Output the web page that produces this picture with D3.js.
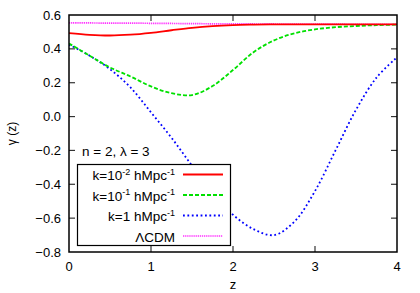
<!DOCTYPE html>
<html>
<head>
<meta charset="utf-8">
<script src="https://cdn.jsdelivr.net/npm/d3@7"></script>
<style>
  body { margin: 0; background: #fff; }
  text { font-family: "Liberation Sans", Arial, sans-serif; }
</style>
</head>
<body>
<script>
// redshift grid shared by all curves
const zGrid = [0, 0.25, 0.5, 0.75, 1, 1.25, 1.5, 1.75, 2, 2.25, 2.5, 2.75, 3, 3.25, 3.5, 3.75, 4];

const gammaK1e2 = [0.493, 0.483, 0.479, 0.484, 0.495, 0.51, 0.524, 0.534, 0.54, 0.543, 0.545, 0.545, 0.545, 0.545, 0.545, 0.545, 0.545];
const gammaK1e1 = [0.432, 0.36, 0.29, 0.237, 0.178, 0.138, 0.127, 0.18, 0.275, 0.38, 0.45, 0.492, 0.515, 0.528, 0.535, 0.54, 0.543];
const gammaK1 = [0.425, 0.36, 0.28, 0.172, 0.025, -0.125, -0.29, -0.45, -0.58, -0.665, -0.70, -0.62, -0.44, -0.20, 0.04, 0.23, 0.35];
const gammaLCDM = [0.553, 0.553, 0.552, 0.552, 0.551, 0.55, 0.549, 0.548, 0.548, 0.547, 0.547, 0.546, 0.546, 0.546, 0.545, 0.545, 0.545];

const xTicks = [0, 1, 2, 3, 4];
const yTicks = [-0.8, -0.6, -0.4, -0.2, 0, 0.2, 0.4, 0.6];

const seriesNames = ["k=10", "k=10", "k=1", "ΛCDM"];
const seriesExp = ["-2", "-1", null, null];

const width = 420, height = 293;
const margin = {top: 15, right: 23, bottom: 41, left: 69};

const svg = d3.select("body").append("svg")
  .attr("width", width)
  .attr("height", height);

const x = d3.scaleLinear().domain([0, 4]).range([margin.left, width - margin.right]);
const y = d3.scaleLinear().domain([-0.8, 0.6]).range([height - margin.bottom, margin.top]);

const series = [
  {vals: gammaK1e2, color: "#ff0000", width: 1.8, dash: null},
  {vals: gammaK1e1, color: "#00e000", width: 1.8, dash: "4,2"},
  {vals: gammaK1, color: "#0000ff", width: 1.8, dash: "1.8,2.6"},
  {vals: gammaLCDM, color: "#ff33ff", width: 1.7, dash: "1.3,0.8"}
];

const line = d3.line()
  .x(d => x(d[0]))
  .y(d => y(d[1]))
  .curve(d3.curveCatmullRom);

svg.append("clipPath").attr("id", "clip")
  .append("rect")
  .attr("x", margin.left).attr("y", margin.top)
  .attr("width", x(4) - x(0)).attr("height", y(-0.8) - y(0.6));

// ticks (inside, mirrored)
const tickLen = 6;
const ticks = svg.append("g").attr("stroke", "#333").attr("stroke-width", 1.2);
xTicks.slice(1, -1).forEach(t => {
  ticks.append("line").attr("x1", x(t)).attr("x2", x(t)).attr("y1", y(-0.8)).attr("y2", y(-0.8) - tickLen);
  ticks.append("line").attr("x1", x(t)).attr("x2", x(t)).attr("y1", y(0.6)).attr("y2", y(0.6) + tickLen);
});
yTicks.slice(1, -1).forEach(t => {
  ticks.append("line").attr("x1", x(0)).attr("x2", x(0) + tickLen).attr("y1", y(t)).attr("y2", y(t));
  ticks.append("line").attr("x1", x(4)).attr("x2", x(4) - tickLen).attr("y1", y(t)).attr("y2", y(t));
});

// curves
const plot = svg.append("g").attr("clip-path", "url(#clip)");
series.slice().reverse().forEach(s => {
  plot.append("path")
    .datum(zGrid.map((z, i) => [z, s.vals[i]]))
    .attr("fill", "none")
    .attr("stroke", s.color)
    .attr("stroke-width", s.width)
    .attr("stroke-dasharray", s.dash)
    .attr("d", line);
});

// frame
svg.append("rect")
  .attr("x", x(0)).attr("y", y(0.6))
  .attr("width", x(4) - x(0)).attr("height", y(-0.8) - y(0.6))
  .attr("fill", "none").attr("stroke", "#000").attr("stroke-width", 1.5);

// tick labels
svg.append("g").selectAll("text").data(xTicks).join("text")
  .attr("x", d => x(d)).attr("y", y(-0.8) + 19)
  .attr("text-anchor", "middle").attr("font-size", 13)
  .text(d => d);
svg.append("g").selectAll("text").data(yTicks).join("text")
  .attr("x", x(0) - 8).attr("y", d => y(d) + 4.5)
  .attr("text-anchor", "end").attr("font-size", 13)
  .text(d => d3.format(".1f")(d));

// axis titles
svg.append("text").attr("x", (x(0) + x(4)) / 2).attr("y", 289)
  .attr("text-anchor", "middle").attr("font-size", 13).text("z");
svg.append("text")
  .attr("transform", `translate(16,${(y(0.6) + y(-0.8)) / 2}) rotate(-90)`)
  .attr("text-anchor", "middle").attr("font-size", 12).text("γ (z)");

// annotation
svg.append("text").attr("x", 82).attr("y", 155.5).attr("font-size", 13.5).text("n = 2, λ = 3");

// legend
const lg = svg.append("g");
lg.append("rect").attr("x", 77.5).attr("y", 164.5).attr("width", 153).attr("height", 81)
  .attr("fill", "#fff").attr("stroke", "#000").attr("stroke-width", 1.2);
const rowY = [174.5, 195, 215.5, 236];
series.forEach((s, i) => {
  lg.append("line").attr("x1", 183).attr("x2", 223).attr("y1", rowY[i]).attr("y2", rowY[i])
    .attr("stroke", s.color).attr("stroke-width", s.width).attr("stroke-dasharray", s.dash);
  const t = lg.append("text").attr("x", 175).attr("y", rowY[i] + 5.5)
    .attr("text-anchor", "end").attr("font-size", 13.5);
  if (i < 3) {
    t.append("tspan").text(seriesNames[i]);
    if (seriesExp[i]) t.append("tspan").attr("dy", -5.5).attr("font-size", 9).text(seriesExp[i]);
    t.append("tspan").attr("dy", seriesExp[i] ? 5.5 : 0).text(" hMpc");
    t.append("tspan").attr("dy", -5.5).attr("font-size", 9).text("-1");
  } else {
    t.text(seriesNames[i]);
  }
});
</script>
</body>
</html>
